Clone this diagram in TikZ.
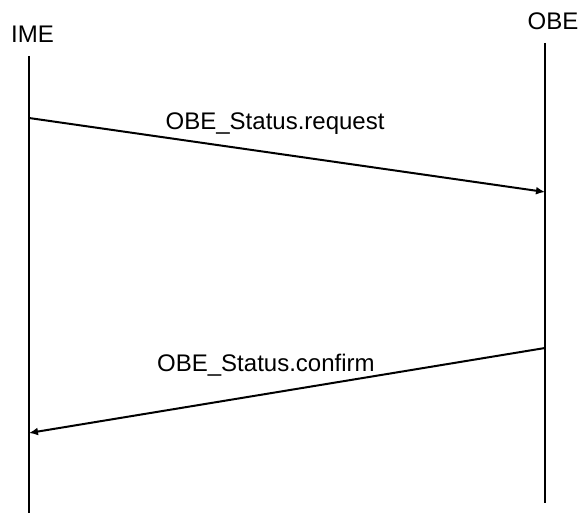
\documentclass[tikz,border=0pt]{standalone}
\usepackage{fontspec}
\setmainfont{Liberation Sans}
\usetikzlibrary{arrows.meta}
\begin{document}
\begin{tikzpicture}[x=1pt,y=-1pt,
  lifeline/.style={line width=1.6pt},
  msg/.style={line width=2pt,-{Latex[length=9pt,width=8pt]}},
  lbl/.style={anchor=base west,inner sep=0pt,font=\fontsize{24}{28}\selectfont}]
\useasboundingbox (0,0) rectangle (582,513);
% lifelines
\coordinate (imeTop) at (29,56);
\coordinate (imeBot) at (29,513);
\coordinate (obeTop) at (545,43);
\coordinate (obeBot) at (545,503);
\draw[lifeline] (imeTop) -- (imeBot);
\draw[lifeline] (obeTop) -- (obeBot);
\node[lbl] (ime) at (11,42.7) {IME};
\node[lbl] (obe) at (527.5,29.3) {OBE};
% message anchor points on the lifelines
\coordinate (reqFrom) at (29,118);
\coordinate (reqTo) at (545,192);
\coordinate (cnfFrom) at (545,348);
\coordinate (cnfTo) at (29,433);
\draw[msg] (reqFrom) -- (reqTo);
\draw[msg] (cnfFrom) -- (cnfTo);
\node[lbl] (req) at (165.5,129.5) {OBE\_Status.request};
\node[lbl] (cnf) at (157,371.7) {OBE\_Status.confirm};
\end{tikzpicture}
\end{document}
